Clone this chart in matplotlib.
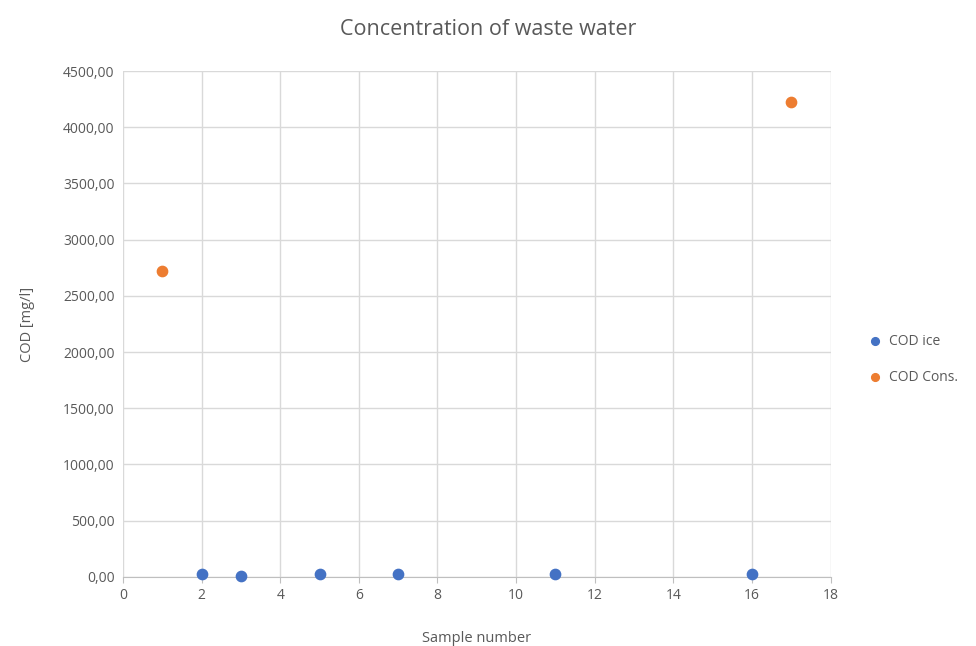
import matplotlib.pyplot as plt
from matplotlib.ticker import FuncFormatter, MultipleLocator

plt.rcParams['font.family'] = ['Open Sans', 'DejaVu Sans']

ice_x = [2, 3, 5, 7, 11, 16]
ice_y = [27, 12, 27, 27, 27, 27]
cons_x = [1, 17]
cons_y = [2720, 4222]

txt = '#595959'
grid = '#d9d9d9'

fig = plt.figure(figsize=(9.76, 6.46), dpi=100)
ax = fig.add_axes([0.126, 0.107, 0.725, 0.783])

ax.scatter(ice_x, ice_y, s=55, color='#4472c4', label='COD ice', zorder=3, clip_on=False)
ax.scatter(cons_x, cons_y, s=55, color='#ed7d31', label='COD Cons.', zorder=3, clip_on=False)

ax.set_xlim(0, 18)
ax.set_ylim(0, 4500)
ax.xaxis.set_major_locator(MultipleLocator(2))
ax.yaxis.set_major_locator(MultipleLocator(500))
ax.yaxis.set_major_formatter(FuncFormatter(lambda v, p: f'{v:.2f}'.replace('.', ',')))

ax.grid(True, color=grid, linewidth=1)
ax.set_axisbelow(True)
for s in ['top', 'right', 'left']:
    ax.spines[s].set_visible(False)
ax.spines['bottom'].set_color('#bfbfbf')
ax.tick_params(length=0, colors=txt, labelsize=10, pad=6)
ax.tick_params(axis='x', length=4, color='#bfbfbf', pad=4)

ax.set_xlabel('Sample number', color=txt, fontsize=10.5, labelpad=20)
ax.set_ylabel('COD [mg/l]', color=txt, fontsize=10.5, labelpad=20)
fig.suptitle('Concentration of waste water', color=txt, fontsize=15.5, y=0.97)

leg = ax.legend(loc='center left', bbox_to_anchor=(1.025, 0.43), frameon=False,
                handletextpad=0.0, labelspacing=1.5, fontsize=10, markerscale=0.75)
for t in leg.get_texts():
    t.set_color(txt)

fig.savefig('out.png', dpi=100)
